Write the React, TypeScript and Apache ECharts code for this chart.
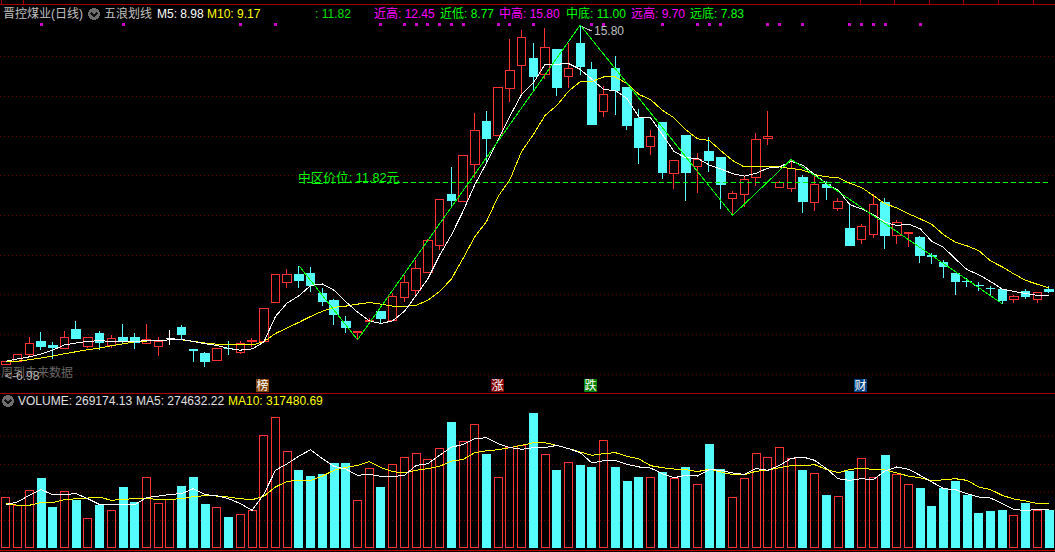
import React, { useEffect, useRef } from "react";
import * as echarts from "echarts";

const opens = [7.25,7.31,7.49,7.82,7.71,7.63,8.13,7.70,8.03,7.71,7.91,7.91,7.76,7.70,7.89,8.17,7.61,7.51,7.33,7.64,7.53,7.81,7.81,8.79,9.31,9.50,9.53,9.04,8.84,8.31,
8.04,8.31,8.58,8.34,8.92,9.10,9.55,10.23,11.52,11.35,12.29,13.36,13.02,14.21,14.79,14.96,14.54,15.18,14.49,15.34,14.68,13.61,14.70,14.22,13.44,12.74,13.34,12.06,13.01,12.23,
12.60,12.45,11.43,11.53,11.96,12.95,11.69,11.67,11.96,11.33,11.78,11.18,10.67,10.40,10.51,11.32,10.48,10.55,10.43,9.98,9.80,9.53,9.34,9.24,9.16,9.12,8.88,9.09,8.88,9.12];
const closes = [7.32,7.48,7.76,7.69,7.67,7.91,7.89,7.93,7.80,7.90,7.84,7.78,7.88,7.82,7.89,7.99,7.60,7.32,7.63,7.63,7.77,7.85,8.66,9.52,9.50,9.36,9.23,8.83,8.49,8.16,
8.08,8.34,8.41,8.95,9.30,9.66,10.36,11.41,11.37,12.50,13.13,12.93,14.22,14.65,15.48,14.49,15.23,14.23,14.70,14.76,13.30,14.04,14.14,13.26,12.71,13.00,12.08,12.39,12.08,12.40,
12.38,11.78,11.56,11.91,12.90,13.00,11.82,12.19,11.36,11.78,11.69,11.34,10.24,10.71,11.27,10.50,10.83,10.56,9.98,9.97,9.71,9.32,9.33,9.23,9.15,8.85,8.96,8.94,9.05,9.08];
const lows = [7.23,7.29,7.44,7.60,7.38,7.63,7.87,7.65,7.60,7.65,7.75,7.63,7.76,7.45,7.72,7.87,7.29,7.17,7.33,7.47,7.50,7.67,7.81,8.79,9.16,9.16,9.06,8.71,8.24,8.02,
7.85,8.29,8.27,8.34,8.82,8.98,9.55,10.12,11.22,11.35,11.93,12.32,13.02,13.85,14.05,14.13,14.43,14.02,14.20,14.55,13.30,13.47,13.52,13.15,12.30,12.51,11.92,11.67,11.37,11.57,
12.08,11.17,11.00,11.22,11.75,12.78,11.69,11.59,11.05,11.10,11.38,11.10,10.22,10.27,10.42,10.14,10.27,10.19,9.81,9.76,9.43,8.99,9.20,9.10,8.96,8.77,8.80,8.90,8.80,9.03];
const highs = [7.33,7.51,7.93,8.06,7.80,8.09,8.34,7.93,8.08,7.97,8.26,8.02,8.26,7.93,8.12,8.24,7.61,7.55,7.63,7.82,7.83,7.91,8.66,9.52,9.65,9.73,9.70,9.17,8.90,8.47,
8.08,8.42,8.58,9.05,9.49,9.87,10.41,11.41,12.23,12.50,13.59,13.62,14.22,15.44,15.67,15.35,15.73,15.18,15.34,15.80,14.87,14.26,15.01,14.22,13.67,13.16,13.36,12.39,13.01,12.57,
12.98,12.48,11.62,12.00,13.08,13.64,11.86,12.41,12.01,12.01,11.86,11.44,11.25,10.78,11.53,11.43,10.87,10.59,10.48,10.06,9.87,9.53,9.42,9.31,9.21,9.14,8.99,9.14,9.05,9.21];
const ma5 = [7.32,7.38,7.43,7.50,7.60,7.73,7.78,7.82,7.84,7.82,7.82,7.82,7.84,7.84,7.86,7.87,7.82,7.76,7.72,7.64,7.60,7.63,7.80,8.45,8.79,8.97,9.23,9.27,9.11,8.82,
8.56,8.34,8.27,8.34,8.58,8.98,9.40,9.99,10.50,11.10,11.77,12.32,12.91,13.50,14.05,14.34,14.81,14.81,14.83,14.68,14.43,14.17,14.15,13.94,13.48,13.46,13.04,12.61,12.45,12.44,
12.27,12.17,12.05,11.99,12.06,12.19,12.22,12.36,12.26,12.03,11.80,11.63,11.27,11.16,11.02,10.83,10.74,10.78,10.66,10.34,10.19,9.90,9.63,9.50,9.33,9.14,9.08,9.03,8.98,8.98];
const ma10 = [7.32,7.32,7.36,7.40,7.45,7.51,7.56,7.61,7.65,7.71,7.76,7.81,7.83,7.84,7.86,7.86,7.82,7.78,7.75,7.74,7.73,7.73,7.81,8.02,8.16,8.30,8.45,8.58,8.68,8.71,
8.76,8.80,8.76,8.71,8.70,8.73,8.86,9.08,9.39,9.91,10.46,10.84,11.48,11.90,12.61,13.04,13.52,13.77,14.13,14.37,14.38,14.49,14.49,14.32,14.05,13.92,13.65,13.46,13.16,12.93,
12.89,12.63,12.38,12.22,12.23,12.23,12.22,12.18,12.14,12.03,11.97,11.95,11.81,11.70,11.50,11.29,11.19,11.04,10.91,10.77,10.51,10.32,10.23,10.11,9.85,9.70,9.52,9.36,9.26,9.17];

// Zigzag pivots as [candle index, price]
const zigPivots = [[25,9.73],[30,7.86],[49,15.80],[62,11.00],[67,12.41],[85,8.77]];
const midLevel = 11.82;
const midStart = 25;
const dotLevel = 15.82;
const dotIndices = [3,10,20,23,32,34,35,36,37,38,39,42,43,45,50,51,56,59,60,61,65,66,68,72,73,74,75,78];

// Volume in thousands of shares
const volumes = [367,310,417,498,290,410,340,217,310,274,433,326,510,324,350,440,505,312,295,219,245,274,810,938,695,555,512,526,605,605,
345,574,433,602,652,681,638,717,898,767,888,669,510,721,738,962,674,555,617,590,576,774,576,476,505,510,540,498,576,460,
740,564,367,498,681,652,724,645,555,538,376,374,548,645,510,662,526,460,426,298,426,476,376,248,262,269,238,319,274,269];
const volMa5 = [310,329,376,417,381,383,388,352,310,310,310,310,360,371,383,388,424,381,374,352,317,269,383,555,602,657,702,638,583,564,
519,526,512,510,519,590,602,662,721,738,781,788,745,717,705,717,717,733,710,681,607,624,624,598,579,571,531,502,519,514,
560,555,536,526,567,555,590,640,650,626,567,495,483,495,488,550,579,562,519,471,424,417,388,364,357,317,274,269,274,275];
const volMa10 = [317,305,305,324,324,345,352,357,364,340,348,352,357,345,348,352,367,374,371,364,352,345,369,436,476,483,481,514,555,576,
590,617,574,545,538,555,567,583,621,633,681,695,702,717,733,752,752,733,710,686,662,674,681,655,636,588,574,564,560,545,
564,543,524,524,548,557,574,588,588,595,562,538,560,571,560,557,536,514,502,479,488,495,483,436,417,376,350,336,317,317];

const headerTexts = [
  { text: "晋控煤业(日线)", x: 3, color: "#c0c0c0" },
  { text: "五浪划线", x: 104, color: "#c0c0c0" },
  { text: "M5: 8.98", x: 157, color: "#ffffff" },
  { text: "M10: 9.17", x: 207, color: "#ffff00" },
  { text: ": 11.82", x: 315, color: "#00e000" },
  { text: "近高: 12.45", x: 374, color: "#ff00ff" },
  { text: "近低: 8.77", x: 440, color: "#00ff00" },
  { text: "中高: 15.80", x: 499, color: "#ff00ff" },
  { text: "中底: 11.00", x: 566, color: "#00ff00" },
  { text: "远高: 9.70", x: 631, color: "#ff00ff" },
  { text: "远底: 7.83", x: 690, color: "#00ff00" },
];
const volHeaderTexts = [
  { text: "VOLUME: 269174.13", x: 18, color: "#e0e0e0" },
  { text: "MA5: 274632.22", x: 136, color: "#e0e0e0" },
  { text: "MA10: 317480.69", x: 228, color: "#ffff00" },
];
const badges = [
  { text: "榜", x: 256, bg: "#804000" },
  { text: "涨", x: 491, bg: "#800000" },
  { text: "跌", x: 584, bg: "#008000" },
  { text: "财", x: 854, bg: "#004080" },
];
const topTicks = [1, 23, 860, 894, 929, 963, 998, 1033];

const FONT = '"Liberation Sans","Noto Sans CJK SC",sans-serif';
const RED = "#ff3232";
const CYAN = "#54fcfc";
const GRID = "#660000";

export default function App() {
  const ref = useRef<HTMLDivElement>(null);
  useEffect(() => {
    document.body.style.margin = "0";
    document.body.style.background = "#000";
    const chart = echarts.init(ref.current!, undefined, { renderer: "svg" });
    const cats = opens.map((_, i) => String(i));
    const zig = cats.map((_, i) => {
      const p = zigPivots.find((q) => q[0] === i);
      return p ? p[1] : null;
    });
    const mid = cats.map((_, i) => (i >= midStart ? midLevel : null));
    const candleData = opens.map((o, i) => {
      const value = [o, closes[i], lows[i], highs[i]];
      if (o === closes[i]) {
        return {
          value,
          itemStyle: { color: "#fff", color0: "#fff", borderColor: "#fff", borderColor0: "#fff", borderColorDoji: "#fff" },
        };
      }
      return value;
    });
    const volData = volumes.map((v, i) => {
      const up = closes[i] >= opens[i];
      return {
        value: v * 1000,
        itemStyle: up
          ? { color: "rgba(0,0,0,0)", borderColor: RED, borderWidth: 1 }
          : { color: CYAN, borderColor: CYAN, borderWidth: 1 },
      };
    });
    const lineSeries = (name: string, data: any[], color: string, axis = 0, extra: any = {}) => ({
      name,
      type: "line",
      data,
      xAxisIndex: axis,
      yAxisIndex: axis,
      symbol: "none",
      silent: true,
      lineStyle: { color, width: 1 },
      ...extra,
    });
    const txt = (text: string, x: number, y: number, fill: string, size = 12) => ({
      type: "text",
      x,
      y,
      silent: true,
      style: { text, fill, font: `${size}px ${FONT}`, textVerticalAlign: "middle", verticalAlign: "middle" },
    });
    const icon = (x: number, y: number) => [
      { type: "circle", shape: { cx: x, cy: y, r: 6 }, style: { fill: "#6e6e6e" }, silent: true },
      { type: "polyline", shape: { points: [[x - 3, y - 1], [x, y + 2], [x + 3, y - 1]] }, style: { stroke: "#111", lineWidth: 1.5, fill: "none" }, silent: true },
    ];
    const graphics: any[] = [
      { type: "line", shape: { x1: 0, y1: 4.5, x2: 1055, y2: 4.5 }, style: { stroke: "#a80000", lineWidth: 1 }, silent: true },
      { type: "line", shape: { x1: 0, y1: 393.5, x2: 1055, y2: 393.5 }, style: { stroke: "#a80000", lineWidth: 1 }, silent: true },
      { type: "line", shape: { x1: 0, y1: 550.5, x2: 1055, y2: 550.5 }, style: { stroke: "#c00000", lineWidth: 1 }, silent: true },
      ...topTicks.map((x) => ({ type: "line", shape: { x1: x + 0.5, y1: 0, x2: x + 0.5, y2: 4 }, style: { stroke: "#a80000", lineWidth: 1 }, silent: true })),
      ...headerTexts.map((t) => txt(t.text, t.x, 14, t.color)),
      ...icon(94, 14),
      ...icon(8, 401),
      ...volHeaderTexts.map((t) => txt(t.text, t.x, 401, t.color)),
      txt("中区价位: 11.82元", 298, 178, "#00ff00", 12.7),
      txt("周到未来数据", 1, 373, "#666666"),
      txt("<-6.98", 5, 376, "#b0b0b0"),
      { type: "polyline", shape: { points: [[581, 26], [587, 29], [592, 31]] }, style: { stroke: "#c0c0c0", lineWidth: 1, fill: "none" }, silent: true },
      txt("15.80", 594, 31, "#c0c0c0"),
      ...badges.flatMap((b) => [
        { type: "rect", shape: { x: b.x, y: 379, width: 13, height: 13 }, style: { fill: b.bg }, silent: true },
        txt(b.text, b.x + 0.5, 385.5, "#ffffff"),
      ]),
    ];
    const splitLine = {
      show: true,
      showMinLine: false,
      showMaxLine: false,
      lineStyle: { color: GRID, type: [1, 3], width: 1 },
    };
    chart.setOption({
      animation: false,
      backgroundColor: "#000",
      grid: [
        { left: 0, right: 0, top: 17.07, height: 396.5, containLabel: false },
        { left: 0, right: 0, top: 408, height: 140, containLabel: false },
      ],
      xAxis: [
        { type: "category", gridIndex: 0, data: cats, show: false, boundaryGap: true },
        { type: "category", gridIndex: 1, data: cats, show: false, boundaryGap: true },
      ],
      yAxis: [
        { type: "value", gridIndex: 0, min: 6, max: 16, interval: 1, axisLine: { show: false }, axisTick: { show: false }, axisLabel: { show: false }, splitLine },
        { type: "value", gridIndex: 1, min: 0, max: 1000000, interval: 200000, axisLine: { show: false }, axisTick: { show: false }, axisLabel: { show: false }, splitLine },
      ],
      series: [
        {
          type: "candlestick",
          data: candleData,
          barWidth: 9,
          silent: true,
          itemStyle: { color: "rgba(0,0,0,0)", color0: CYAN, borderColor: RED, borderColor0: CYAN, borderWidth: 1 },
        },
        lineSeries("mid", mid, "#00ff00", 0, { lineStyle: { color: "#00ff00", width: 1, type: [5, 3] } }),
        lineSeries("ma10", ma10, "#ffff00"),
        lineSeries("ma5", ma5, "#ffffff"),
        lineSeries("zig", zig, "#00ff00", 0, { connectNulls: true }),
        {
          type: "scatter",
          data: dotIndices.map((i) => [i, dotLevel]),
          symbol: "rect",
          symbolSize: 3,
          silent: true,
          itemStyle: { color: "#ff00ff" },
        },
        { type: "bar", xAxisIndex: 1, yAxisIndex: 1, data: volData, barWidth: 9, silent: true },
        lineSeries("volMa10", volMa10.map((v) => v * 1000), "#ffff00", 1),
        lineSeries("volMa5", volMa5.map((v) => v * 1000), "#ffffff", 1),
      ],
      graphic: { elements: graphics },
    });
    const svg = ref.current!.querySelector("svg");
    if (svg) (svg as any).style.shapeRendering = "crispEdges";
    return () => chart.dispose();
  }, []);
  return <div ref={ref} style={{ position: "fixed", left: 0, top: 0, width: 1055, height: 552, background: "#000" }} />;
}
